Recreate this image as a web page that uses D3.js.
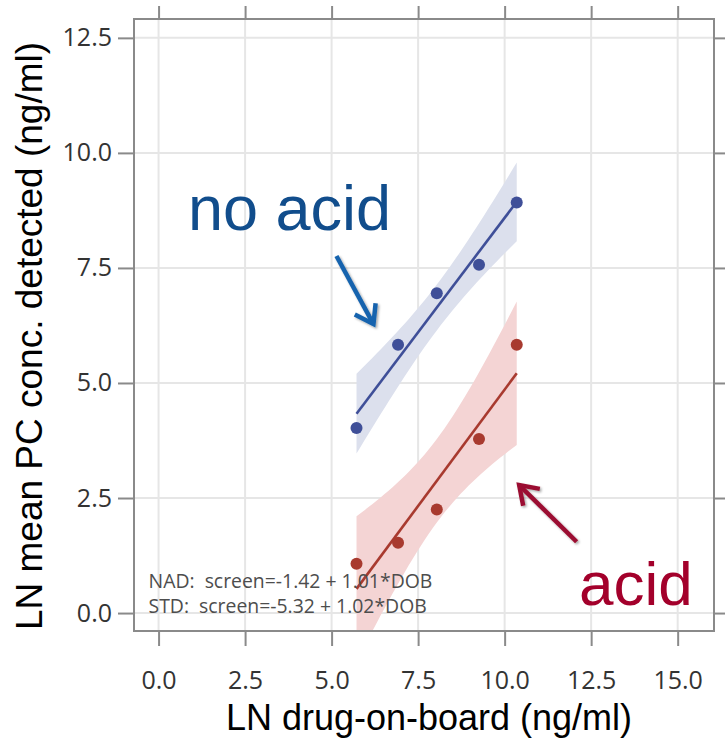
<!DOCTYPE html>
<html>
<head>
<meta charset="utf-8">
<script src="https://cdn.jsdelivr.net/npm/d3@7"></script>
<style>
  body { margin: 0; background: #fff; }
  svg { display: block; }
</style>
</head>
<body>
<script>
//---------------- data ----------------
const dob = [5.72, 6.92, 8.04, 9.26, 10.35];
const noAcid = [4.02, 5.83, 6.95, 7.57, 8.92];
const acid = [1.07, 1.53, 2.25, 3.78, 5.83];
const xTicks = [0, 2.5, 5, 7.5, 10, 12.5, 15];
const yTicks = [0, 2.5, 5, 7.5, 10, 12.5];
const eqLines = ["NAD:  screen=-1.42 + 1.01*DOB", "STD:  screen=-5.32 + 1.02*DOB"];

//---------------- setup ----------------
const width = 725, height = 739;
const plotL = 134, plotR = 714, plotT = 19, plotB = 631;

const svg = d3.select("body").append("svg").attr("width", width).attr("height", height);

const x = d3.scaleLinear().domain([-0.71, 16.05]).range([plotL, plotR]);
const y = d3.scaleLinear().domain([-0.39, 12.91]).range([plotB, plotT]);

const defs = svg.append("defs");
defs.append("clipPath").attr("id", "plot")
  .append("rect").attr("x", plotL).attr("y", plotT).attr("width", plotR - plotL).attr("height", plotB - plotT);

const shadow = defs.append("filter").attr("id", "shadow").attr("x", "-20%").attr("y", "-20%").attr("width", "140%").attr("height", "140%");
shadow.append("feDropShadow").attr("dx", 1.5).attr("dy", 1.5).attr("stdDeviation", 1.2).attr("flood-color", "#000").attr("flood-opacity", 0.35);

//---------------- grid ----------------
svg.append("g").selectAll("line").data(xTicks).enter().append("line")
  .attr("x1", d => x(d)).attr("x2", d => x(d)).attr("y1", plotT).attr("y2", plotB)
  .attr("stroke", "#e6e6e6").attr("stroke-width", 2);
svg.append("g").selectAll("line").data(yTicks).enter().append("line")
  .attr("x1", plotL).attr("x2", plotR).attr("y1", d => y(d)).attr("y2", d => y(d))
  .attr("stroke", "#e6e6e6").attr("stroke-width", 2);

//---------------- regression fit + 95% CI ----------------
function fit(xs, ys) {
  const n = xs.length, mx = d3.mean(xs), my = d3.mean(ys);
  const sxx = d3.sum(xs, v => (v - mx) ** 2);
  const sxy = d3.sum(xs, (v, i) => (v - mx) * (ys[i] - my));
  const b = sxy / sxx, a = my - b * mx;
  const sse = d3.sum(xs, (v, i) => (ys[i] - a - b * v) ** 2);
  const s = Math.sqrt(sse / (n - 2));
  const t = 3.182;
  return {
    f: v => a + b * v,
    half: v => t * s * Math.sqrt(1 / n + (v - mx) ** 2 / sxx)
  };
}

const series = [
  { ys: noAcid, color: "#3f4f98", band: "#dce0ed" },
  { ys: acid, color: "#a83a2f", band: "#f4d4d4" }
];

const plot = svg.append("g").attr("clip-path", "url(#plot)");
const [xmin, xmax] = d3.extent(dob);
const samples = d3.range(0, 41).map(i => xmin + (xmax - xmin) * i / 40);

series.forEach(s => {
  const m = fit(dob, s.ys);
  plot.append("path")
    .datum(samples)
    .attr("fill", s.band)
    .attr("d", d3.area().x(d => x(d)).y0(d => y(m.f(d) - m.half(d))).y1(d => y(m.f(d) + m.half(d))));
  plot.append("line")
    .attr("x1", x(xmin)).attr("y1", y(m.f(xmin)))
    .attr("x2", x(xmax)).attr("y2", y(m.f(xmax)))
    .attr("stroke", s.color).attr("stroke-width", 2.6);
  plot.selectAll(null).data(dob).enter().append("circle")
    .attr("cx", d => x(d)).attr("cy", (d, i) => y(s.ys[i]))
    .attr("r", 6).attr("fill", s.color);
});

//---------------- frame + axes ----------------
svg.append("rect").attr("x", plotL).attr("y", plotT).attr("width", plotR - plotL).attr("height", plotB - plotT)
  .attr("fill", "none").attr("stroke", "#8a8a8a").attr("stroke-width", 2);

function styleAxis(g) {
  g.select(".domain").remove();
  g.selectAll(".tick line").attr("stroke", "#8a8a8a").attr("stroke-width", 2);
  g.selectAll(".tick text").attr("fill", "#333").style("font-family", "'Open Sans', sans-serif").style("font-size", "25px");
}

svg.append("g").attr("transform", `translate(0,${plotB})`)
  .call(d3.axisBottom(x).tickValues(xTicks).tickSize(15).tickPadding(25).tickFormat(d3.format(".1f")))
  .call(styleAxis);
svg.append("g").attr("transform", `translate(0,${plotT})`)
  .call(d3.axisTop(x).tickValues(xTicks).tickSize(13).tickFormat(""))
  .call(styleAxis);
svg.append("g").attr("transform", `translate(${plotL},0)`)
  .call(d3.axisLeft(y).tickValues(yTicks).tickSize(16).tickPadding(6).tickFormat(d3.format(".1f")))
  .call(styleAxis);
svg.append("g").attr("transform", `translate(${plotR},0)`)
  .call(d3.axisRight(y).tickValues(yTicks).tickSize(11).tickFormat(""))
  .call(styleAxis);

//---------------- axis titles ----------------
svg.append("text")
  .text("LN drug-on-board (ng/ml)")
  .attr("x", 429).attr("y", 730)
  .attr("text-anchor", "middle")
  .style("font-family", "'Liberation Sans', Arial, sans-serif").style("font-size", "36px").attr("fill", "#000");

svg.append("text")
  .text("LN mean PC conc. detected (ng/ml)")
  .attr("transform", "translate(42,336) rotate(-90)")
  .attr("text-anchor", "middle")
  .style("font-family", "'Liberation Sans', Arial, sans-serif").style("font-size", "37px").attr("fill", "#000");

//---------------- equations ----------------
eqLines.forEach((t, i) => {
  svg.append("text")
    .text(t)
    .attr("x", x(-0.29)).attr("y", y(0.54 - i * 0.545))
    .attr("xml:space", "preserve").style("white-space", "pre")
    .style("font-family", "'Open Sans', sans-serif").style("font-size", "19.4px").attr("fill", "#4d4d4d");
});

//---------------- annotations ----------------
svg.append("text").text("no acid")
  .attr("x", x(0.85)).attr("y", y(8.33))
  .style("font-family", "'Liberation Sans', Arial, sans-serif").style("font-size", "63px").attr("fill", "#114d8c");
svg.append("text").text("acid")
  .attr("x", x(12.15)).attr("y", y(0.17))
  .style("font-family", "'Liberation Sans', Arial, sans-serif").style("font-size", "62px").attr("fill", "#a3002b");

function arrow(x0, y0, x1, y1, color) {
  const ax = x(x0), ay = y(y0), bx = x(x1), by = y(y1);
  const ang = Math.atan2(by - ay, bx - ax), L = 21, spread = 0.6;
  const p1 = [bx - L * Math.cos(ang - spread), by - L * Math.sin(ang - spread)];
  const p2 = [bx - L * Math.cos(ang + spread), by - L * Math.sin(ang + spread)];
  const g = svg.append("g").attr("filter", "url(#shadow)");
  g.append("line").attr("x1", ax).attr("y1", ay).attr("x2", bx).attr("y2", by)
    .attr("stroke", color).attr("stroke-width", 4.5);
  g.append("path").attr("d", `M${p1}L${bx},${by}L${p2}`)
    .attr("fill", "none").attr("stroke", color).attr("stroke-width", 4.5).attr("stroke-linejoin", "miter");
}
arrow(5.14, 7.76, 6.21, 6.28, "#1764ae");
arrow(12.08, 1.55, 10.42, 2.78, "#9b1131");
</script>
</body>
</html>
